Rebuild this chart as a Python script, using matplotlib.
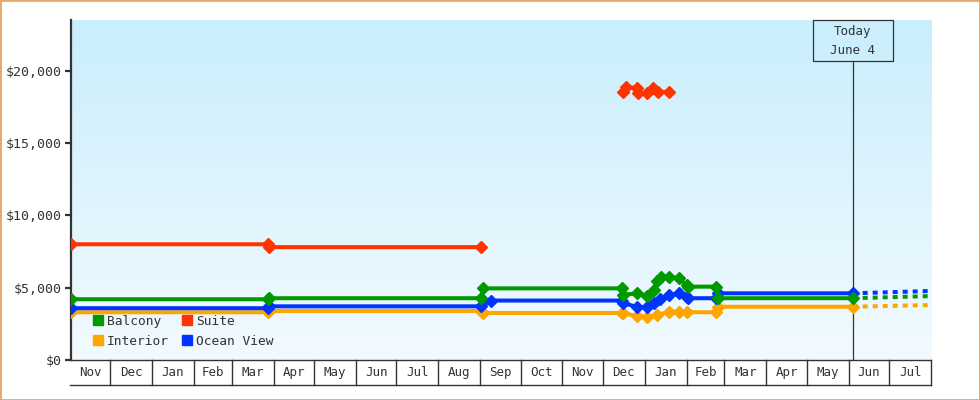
import matplotlib
matplotlib.use('Agg')
import matplotlib.pyplot as plt
import matplotlib.dates as mdates
import matplotlib.transforms as mtransforms
from matplotlib.patches import Rectangle
from matplotlib.lines import Line2D
from matplotlib.colors import LinearSegmentedColormap
from matplotlib.ticker import FuncFormatter
import numpy as np
import pandas as pd

# price samples per cabin type
balcony_dates = ['2017-11-02', '2018-03-28', '2018-03-29', '2018-09-02', '2018-09-03',
                 '2018-12-15', '2018-12-16', '2018-12-26', '2019-01-03', '2019-01-08',
                 '2019-01-10', '2019-01-13', '2019-01-19', '2019-01-26', '2019-02-01',
                 '2019-02-02', '2019-02-23', '2019-02-24', '2019-06-04']
balcony_prices = [4200, 4200, 4270, 4270, 4950,
                  4950, 4500, 4610, 4420, 4840,
                  5480, 5760, 5760, 5650, 5180,
                  5070, 5070, 4270, 4270]

interior_dates = ['2017-11-02', '2018-03-28', '2018-03-29', '2018-09-02', '2018-09-03',
                  '2018-12-15', '2018-12-16', '2018-12-26', '2019-01-03', '2019-01-10',
                  '2019-01-19', '2019-01-26', '2019-02-01', '2019-02-23', '2019-02-24',
                  '2019-06-04']
interior_prices = [3300, 3300, 3390, 3390, 3250,
                   3250, 3230, 3040, 2990, 3110,
                   3340, 3340, 3300, 3300, 3680,
                   3680]

ocean_dates = ['2017-11-02', '2018-03-28', '2018-03-29', '2018-09-02', '2018-09-09',
               '2018-12-15', '2018-12-16', '2018-12-26', '2019-01-03', '2019-01-08',
               '2019-01-12', '2019-01-19', '2019-01-26', '2019-02-01', '2019-02-02',
               '2019-02-23', '2019-02-24', '2019-06-04']
ocean_prices = [3580, 3580, 3710, 3710, 4110,
                4110, 3920, 3680, 3640, 3920,
                4200, 4490, 4610, 4330, 4270,
                4270, 4610, 4610]

suite_dates = ['2017-11-02', '2018-03-28', '2018-03-29', '2018-09-02', '2018-10-15',
               '2018-12-16', '2018-12-18', '2018-12-26', '2018-12-27', '2019-01-03',
               '2019-01-07', '2019-01-11', '2019-01-19']
suite_prices = [8000, 8000, 7800, 7800, np.nan,
                18550, 18900, 18780, 18440, 18440,
                18780, 18550, 18500]

# projection after today
proj_dates = ['2019-06-04', '2019-08-01']
balcony_proj = [4270, 4420]
ocean_proj = [4610, 4770]
interior_proj = [3680, 3800]

today = '2019-06-04'
today_label = ['Today', 'June 4']
x_start, x_end = '2017-11-02', '2019-08-01'
y_ticks = [0, 5000, 10000, 15000, 20000]

colors = {'Balcony': '#009900', 'Suite': '#ff3300',
          'Interior': '#ffa500', 'Ocean View': '#0033ff'}
ink = '#333333'

plt.rcParams['font.family'] = ['DejaVu Sans Mono']
plt.rcParams['lines.scale_dashes'] = False

fig = plt.figure(figsize=(9.8, 4), dpi=100)
ax = fig.add_axes([71 / 980, 40 / 400, 860 / 980, 340 / 400])

# background gradient
cmap = LinearSegmentedColormap.from_list('bg', ['#c9eefc', '#f2faff'])
grad = np.linspace(0, 1, 256).reshape(-1, 1)
ax.imshow(grad, cmap=cmap, extent=(0, 1, 0, 1), transform=ax.transAxes,
          aspect='auto', origin='upper', zorder=0)

def d(lst):
    return pd.to_datetime(lst)

series = [('Interior', interior_dates, interior_prices),
          ('Ocean View', ocean_dates, ocean_prices),
          ('Balcony', balcony_dates, balcony_prices),
          ('Suite', suite_dates, suite_prices)]
for name, dts, vals in series:
    c = colors[name]
    ax.plot(d(dts), vals, color=c, lw=2.9, marker='D', ms=5.8, mec=c, mew=1,
            zorder=3)

for name, vals in [('Interior', interior_proj), ('Ocean View', ocean_proj),
                   ('Balcony', balcony_proj)]:
    ax.plot(d(proj_dates), vals, color=colors[name], lw=2.9,
            ls=(0, (3.6, 3.6)), dash_capstyle='butt', zorder=2)

x0, x1 = mdates.date2num(pd.Timestamp(x_start)), mdates.date2num(pd.Timestamp(x_end))
ax.set_xlim(x0, x1)
ax.set_ylim(0, 23500)

# axes styling
for s in ['top', 'right']:
    ax.spines[s].set_visible(False)
ax.spines['left'].set_color(ink)
ax.spines['left'].set_linewidth(1.6)
ax.spines['bottom'].set_color(ink)
ax.spines['bottom'].set_linewidth(1.0)
ax.set_yticks(y_ticks)
ax.yaxis.set_major_formatter(FuncFormatter(lambda v, p: '${:,.0f}'.format(v)))
ax.tick_params(axis='y', direction='out', length=4.5, width=1.6, color=ink,
               labelsize=9.5, labelcolor=ink, pad=2)
ax.set_xticks([])

# month cells under the axis
bt = mtransforms.blended_transform_factory(ax.transData, ax.transAxes)
cell_h = -25 / 340
months = pd.date_range('2017-12-01', '2019-07-01', freq='MS')
edges = [x0] + [mdates.date2num(m) for m in months] + [x1]
for e in edges[1:]:
    ax.plot([e, e], [0, cell_h], color=ink, lw=1.0, transform=bt, clip_on=False)
ax.plot([x0 - 1, x1], [cell_h, cell_h], color=ink, lw=1.0, transform=bt, clip_on=False)
labels = [pd.Timestamp(x_start).strftime('%b')] + [m.strftime('%b') for m in months]
for a, b, lab in zip(edges[:-1], edges[1:], labels):
    ax.text((a + b) / 2, cell_h / 2, lab, transform=bt, ha='center', va='center',
            fontsize=9, color=ink)

# today marker
tnum = mdates.date2num(pd.Timestamp(today))
box_bottom = (360 - 60.7) / 340
ax.plot([tnum, tnum], [0, box_bottom], color=ink, lw=0.9, transform=bt, zorder=1.5)
days_per_px = (x1 - x0) / 860
half_w = 40 * days_per_px
ax.add_patch(Rectangle((tnum - half_w, box_bottom), 2 * half_w, 1 - box_bottom,
                       transform=bt, fill=False, ec=ink, lw=0.9, clip_on=False, zorder=4))
ax.text(tnum, (360 - 32) / 340, today_label[0], transform=bt, ha='center', va='center',
        fontsize=9, color=ink)
ax.text(tnum, (360 - 50) / 340, today_label[1], transform=bt, ha='center', va='center',
        fontsize=9, color=ink)

# legend
order = ['Balcony', 'Interior', 'Suite', 'Ocean View']
handles = [Line2D([], [], ls='none', marker='s', ms=7.6, color=colors[n]) for n in order]
ax.legend(handles, order, loc='lower left', bbox_to_anchor=(0.025, 0.036), ncol=2,
          frameon=False, fontsize=9.3, handlelength=0.9, handletextpad=0.2,
          columnspacing=1.0, labelspacing=0.55, borderpad=0, borderaxespad=0,
          labelcolor=ink)

fig.patches.append(Rectangle((0, 0), 1, 1, transform=fig.transFigure, fill=False,
                             ec='#e8a865', lw=2))

fig.savefig('out.png', dpi=100)
